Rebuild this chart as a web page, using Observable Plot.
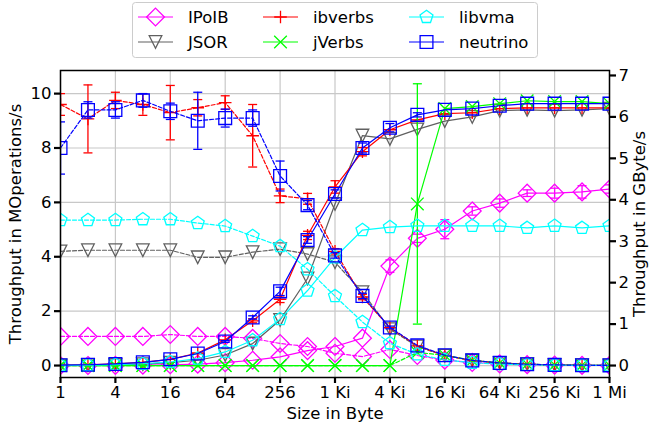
<!DOCTYPE html>
<html><head><meta charset="utf-8">
<script src="https://cdn.jsdelivr.net/npm/d3@7"></script>
<script src="https://cdn.jsdelivr.net/npm/@observablehq/plot@0.6"></script>
<style>
body{margin:0;background:#fff}
#wrap{position:relative;width:649px;height:425px;font-family:"DejaVu Sans",sans-serif}
#legend{position:absolute;left:0;top:0}
</style></head><body><div id="wrap"></div>
<script>
// ---------- data ----------
const sizes = [1,2,4,8,16,32,64,128,256,512,1024,2048,4096,8192,16384,32768,65536,131072,262144,524288,1048576];
const sizeTicks = [1,4,16,64,256,1024,4096,16384,65536,262144,1048576];
const sizeTickLabels = ["1","4","16","64","256","1 Ki","4 Ki","16 Ki","64 Ki","256 Ki","1 Mi"];
const opsTicks = [0,2,4,6,8,10];
const gbTicks = [0,1,2,3,4,5,6,7];
const libraries = ["IPoIB","JSOR","ibverbs","jVerbs","libvma","neutrino"];
const libColors = ["#ff00ff","#606060","#ff0000","#00ff00","#00ffff","#0000ff"];

// operations rate (MOperations/s, left axis)
const ipoibOps    = [1.07,1.07,1.07,1.07,1.14,1.07,1.07,1.0,0.81,0.70,0.45,0.33,0.59,0.37,0.20,0.114,0.060,0.032,0.016,0.008,0.004];
const jsorOps     = [4.2,4.24,4.24,4.24,4.24,3.98,3.98,4.17,4.28,4.1,3.8,2.7,1.34,0.70,0.36,0.184,0.094,0.047,0.0235,0.0118,0.0059];
const ibverbsOps  = [9.6,9.07,9.75,9.6,9.3,9.48,9.67,8.45,6.24,6.13,4.2,2.52,1.39,0.72,0.371,0.186,0.094,0.047,0.0237,0.0119,0.0059];
const jverbsOps   = [0,0,0,0,0,0,0,0,0,0,0,0,0,0.48,0.38,0.19,0.096,0.049,0.0243,0.0121,0.006];
const libvmaOps   = [5.35,5.35,5.35,5.38,5.38,5.24,5.13,4.76,4.39,3.54,2.55,1.6,0.82,0.41,0.206,0.103,0.051,0.025,0.0129,0.0063,0.0032];
const neutrinoOps = [8.0,9.4,9.4,9.75,9.35,9.0,9.1,9.1,6.97,5.9,4.05,2.56,1.4,0.74,0.378,0.189,0.096,0.048,0.0241,0.0121,0.006];

// error of operations rate
const ipoibOpsErr    = [0,0,0,0,0,0,0,0,0,0,0,0,0,0,0,0,0,0,0,0,0];
const jsorOpsErr     = [0,0,0,0,0,0,0,0,0,0,0,0,0,0,0,0,0,0,0,0,0];
const ibverbsOpsErr  = [0.4,1.25,0.3,0.4,1.0,0.3,0.25,1.15,0.25,0.2,0.1,0.1,0,0,0,0,0,0,0,0,0];
const jverbsOpsErr   = [0,0,0,0,0,0,0,0,0,0,0,0,0,0,0,0,0,0,0,0,0];
const libvmaOpsErr   = [0,0,0,0,0,0,0,0,0,0,0,0,0,0,0,0,0,0,0,0,0];
const neutrinoOpsErr = [0.96,0.3,0.3,0.25,0.3,1.05,0.33,0.3,0.55,0.17,0.1,0.1,0.05,0,0,0,0,0,0,0,0];

// throughput (GByte/s, right axis)
const ipoibGB    = [0.001,0.002,0.004,0.009,0.018,0.034,0.068,0.128,0.21,0.36,0.46,0.66,2.4,3.07,3.29,3.73,3.92,4.16,4.16,4.19,4.26];
const jsorGB     = [0.004,0.0085,0.017,0.034,0.068,0.127,0.255,0.53,1.1,2.1,3.9,5.55,5.47,5.7,5.9,6.0,6.15,6.17,6.15,6.17,6.2];
const ibverbsGB  = [0.0096,0.018,0.039,0.077,0.149,0.303,0.62,1.08,1.6,3.14,4.31,5.16,5.69,5.93,6.08,6.1,6.2,6.22,6.22,6.22,6.22];
const jverbsGB   = [0,0,0,0,0,0,0,0,0,0,0,0,0,3.9,6.2,6.25,6.32,6.39,6.37,6.37,6.32];
const libvmaGB   = [0.005,0.011,0.021,0.043,0.086,0.168,0.328,0.61,1.12,1.81,2.61,3.27,3.34,3.37,3.37,3.37,3.37,3.32,3.37,3.32,3.37];
const neutrinoGB = [0.008,0.019,0.038,0.078,0.15,0.29,0.58,1.16,1.79,3.03,4.14,5.25,5.74,6.05,6.17,6.2,6.27,6.32,6.32,6.32,6.32];

// error of throughput
const ipoibGBErr    = [0,0,0,0,0,0,0,0,0,0,0,0,0.15,0.1,0.23,0.1,0.1,0.08,0.12,0.15,0.1];
const jsorGBErr     = [0,0,0,0,0,0,0,0,0,0,0,0,0,0,0,0,0,0,0,0,0];
const ibverbsGBErr  = [0,0,0,0,0,0,0,0.05,0.08,0.1,0.15,0.1,0,0,0,0,0,0,0,0,0];
const jverbsGBErr   = [0,0,0,0,0,0,0,0,0,0,0,0,0,2.9,0,0,0,0,0,0,0];
const libvmaGBErr   = [0,0,0,0,0,0,0,0,0,0,0,0,0,0,0,0,0,0,0,0,0];
const neutrinoGBErr = [0,0,0,0,0,0,0.02,0.04,0.1,0.08,0.1,0.12,0.1,0.05,0,0,0,0,0,0,0];

// ---------- symbols (matplotlib-like open markers) ----------
const mk = fn => ({draw(ctx, size){ fn(ctx, Math.sqrt(size / Math.PI)); }});
const symDiamond = mk((c, r) => { c.moveTo(0,-r); c.lineTo(r,0); c.lineTo(0,r); c.lineTo(-r,0); c.closePath(); });
const symTriDown = mk((c, r) => { c.moveTo(0,r); c.lineTo(-r,-r); c.lineTo(r,-r); c.closePath(); });
const symPlus = mk((c, r) => { c.moveTo(-r,0); c.lineTo(r,0); c.moveTo(0,-r); c.lineTo(0,r); });
const symTimes = mk((c, r) => { c.moveTo(-r,-r); c.lineTo(r,r); c.moveTo(-r,r); c.lineTo(r,-r); });
const symPent = mk((c, r) => { for (let k = 0; k < 5; k++) { const a = (-90 + 72*k) * Math.PI/180; const px = r*Math.cos(a), py = r*Math.sin(a); k ? c.lineTo(px,py) : c.moveTo(px,py); } c.closePath(); });
const symSquare = mk((c, r) => { c.rect(-r,-r,2*r,2*r); });
const symCap = mk((c, r) => { c.moveTo(-r,0); c.lineTo(r,0); });
const libSymbols = [symDiamond, symTriDown, symPlus, symTimes, symPent, symSquare];
const libSymbolR = [8.9, 6.3, 6.3, 6.3, 6.8, 6.4];

const series = [
  {ops: ipoibOps, opsErr: ipoibOpsErr, gb: ipoibGB, gbErr: ipoibGBErr},
  {ops: jsorOps, opsErr: jsorOpsErr, gb: jsorGB, gbErr: jsorGBErr},
  {ops: ibverbsOps, opsErr: ibverbsOpsErr, gb: ibverbsGB, gbErr: ibverbsGBErr},
  {ops: jverbsOps, opsErr: jverbsOpsErr, gb: jverbsGB, gbErr: jverbsGBErr},
  {ops: libvmaOps, opsErr: libvmaOpsErr, gb: libvmaGB, gbErr: libvmaGBErr},
  {ops: neutrinoOps, opsErr: neutrinoOpsErr, gb: neutrinoGB, gbErr: neutrinoGBErr}
];

// ---------- dual axis mapping ----------
const L0 = -0.44, L1 = 10.85;   // left axis domain
const R1 = 7.12, R0 = R1 * L0 / L1; // right axis domain (zeros aligned)
const toL = g => L0 + (g - R0) * (L1 - L0) / (R1 - R0);
const fromL = v => R0 + (v - L0) * (R1 - R0) / (L1 - L0);

const marks = [
  Plot.gridX({ticks: sizeTicks, stroke: "#c8c8c8", strokeOpacity: 1, strokeWidth: 1.2}),
  Plot.gridY({ticks: opsTicks, stroke: "#c8c8c8", strokeOpacity: 1, strokeWidth: 1.2})
];

series.forEach((s, i) => {
  const color = libColors[i];
  const groups = [
    {rows: sizes.map((x, j) => ({x, v: s.ops[j], e: s.opsErr[j]})), dash: "4,2"},
    {rows: sizes.map((x, j) => ({x, v: toL(s.gb[j]), e: toL(s.gb[j] + s.gbErr[j]) - toL(s.gb[j])})), dash: null}
  ];
  for (const g of groups) {
    marks.push(Plot.line(g.rows, {x: "x", y: "v", stroke: color, strokeWidth: 1.2, strokeDasharray: g.dash, clip: true}));
    const er = g.rows.filter(d => d.e > 0);
    marks.push(Plot.ruleX(er, {x: "x", y1: d => d.v - d.e, y2: d => d.v + d.e, stroke: color, strokeWidth: 1.3, clip: true}));
    marks.push(Plot.dot(er, {x: "x", y: d => d.v - d.e, symbol: symCap, r: 4.5, stroke: color, fill: "none", strokeWidth: 1.3, clip: true}));
    marks.push(Plot.dot(er, {x: "x", y: d => d.v + d.e, symbol: symCap, r: 4.5, stroke: color, fill: "none", strokeWidth: 1.3, clip: true}));
    marks.push(Plot.dot(g.rows, {x: "x", y: "v", symbol: libSymbols[i], r: libSymbolR[i], stroke: color, fill: "none", strokeWidth: 1.3, clip: true}));
  }
});

marks.push(
  Plot.frame({stroke: "black", strokeWidth: 1.5}),
  Plot.axisX({ticks: sizeTicks, tickFormat: d => sizeTickLabels[sizeTicks.indexOf(d)], tickSize: 6, tickPadding: 3, stroke: "black", strokeWidth: 2.2,
              label: "Size in Byte", labelAnchor: "center", labelArrow: "none", labelOffset: 41}),
  Plot.axisY({ticks: opsTicks, tickSize: 6, tickPadding: 3, stroke: "black", strokeWidth: 2.2,
              label: "Throughput in MOperations/s", labelAnchor: "center", labelArrow: "none", labelOffset: 51}),
  Plot.axisY({anchor: "right", ticks: gbTicks.map(toL), tickFormat: v => String(Math.round(fromL(v))), tickSize: 6, tickPadding: 3, stroke: "black", strokeWidth: 2.2,
              label: "Throughput in GByte/s", labelAnchor: "center", labelArrow: "none", labelOffset: 35})
);

const chart = Plot.plot({
  width: 649, height: 425,
  marginLeft: 60, marginRight: 40, marginTop: 70, marginBottom: 48,
  x: {type: "log", base: 2, domain: [1, 1048576]},
  y: {domain: [L0, L1]},
  style: {fontFamily: "DejaVu Sans", fontSize: "16.5px", color: "black", background: "white", overflow: "visible"},
  marks
});
const wrap = document.getElementById("wrap");
wrap.appendChild(chart);

// ---------- legend ----------
const lg = d3.select(wrap).append("svg").attr("id", "legend").attr("width", 649).attr("height", 62);
lg.append("rect").attr("x", 132.5).attr("y", 2.5).attr("width", 405).attr("height", 55).attr("rx", 3)
  .attr("fill", "white").attr("fill-opacity", 0.8).attr("stroke", "#cccccc");
const colLineX = [138, 263, 409], colTextX = [188, 313, 459], rowY = [17, 42];
libraries.forEach((name, i) => {
  const col = Math.floor(i / 2), row = i % 2;
  const x0 = colLineX[col], y = rowY[row];
  const g = lg.append("g").attr("transform", `translate(0,${y})`);
  g.append("line").attr("x1", x0).attr("x2", x0 + 35).attr("y1", 0).attr("y2", 0).attr("stroke", libColors[i]).attr("stroke-width", 1.2);
  const p = d3.path();
  libSymbols[i].draw(p, libSymbolR[i] * libSymbolR[i] * Math.PI);
  g.append("path").attr("d", p.toString()).attr("transform", `translate(${x0 + 17.5},0)`).attr("fill", "none").attr("stroke", libColors[i]).attr("stroke-width", 1.3);
  g.append("text").attr("x", colTextX[col]).attr("y", 0).attr("dy", "0.36em").attr("font-size", 16.5).attr("font-family", "DejaVu Sans").text(name);
});
</script></body></html>
